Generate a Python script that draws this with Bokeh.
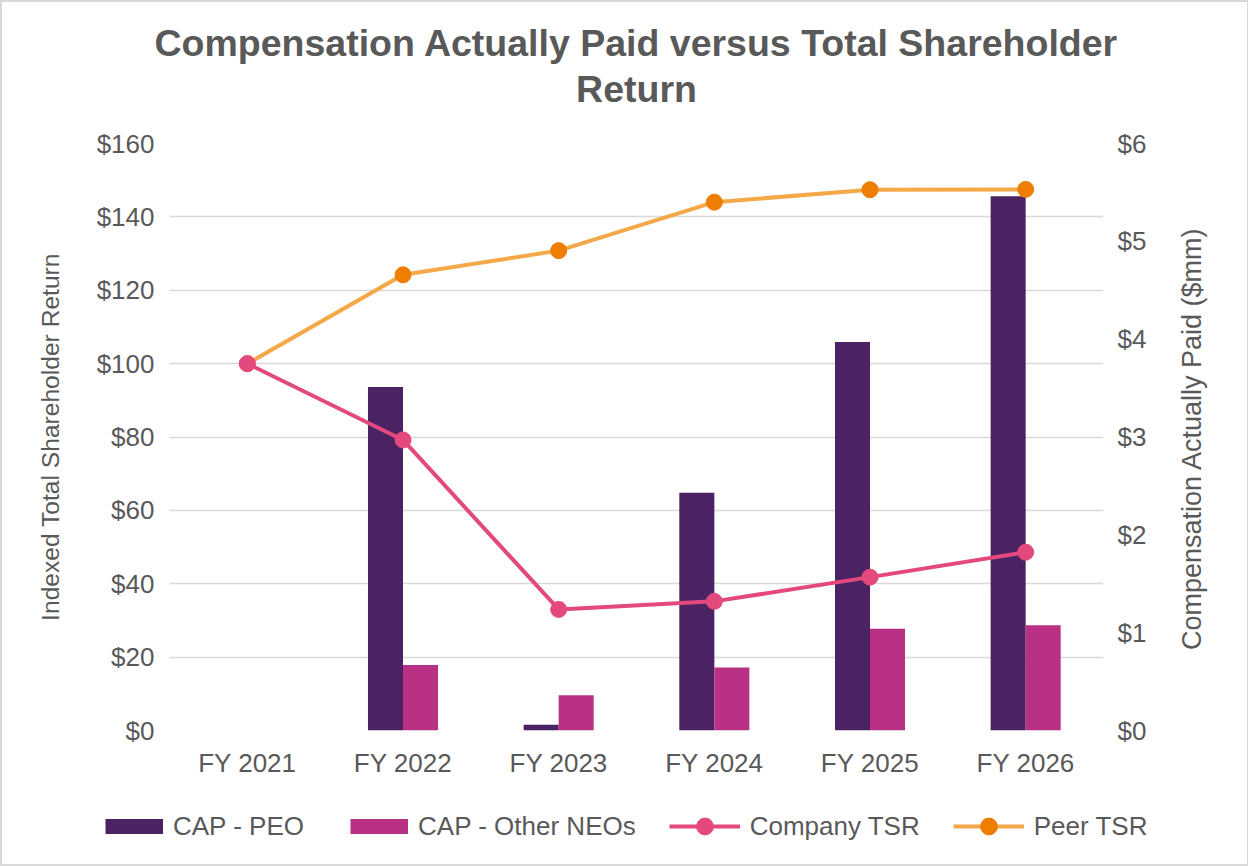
import math
from bokeh.plotting import figure
from bokeh.layouts import column, row
from bokeh.models import (Range1d, LinearAxis, FactorRange, FixedTicker, Label,
                          PrintfTickFormatter, Legend, LegendItem, ColumnDataSource, Title)
from bokeh.transform import dodge
from bokeh.embed import file_html
from bokeh.resources import INLINE

# ---- data ----
years = ["FY 2021", "FY 2022", "FY 2023", "FY 2024", "FY 2025", "FY 2026"]
cap_peo = [0.0, 3.51, 0.06, 2.43, 3.97, 5.46]        # $mm (right axis)
cap_neo = [0.0, 0.67, 0.36, 0.645, 1.04, 1.075]      # $mm (right axis)
company_tsr = [100.0, 79.2, 33.0, 35.2, 41.8, 48.6]  # left axis
peer_tsr = [100.0, 124.2, 130.8, 144.0, 147.4, 147.5]
tsr_ticks = [0, 20, 40, 60, 80, 100, 120, 140, 160]
cap_ticks = [0, 1, 2, 3, 4, 5, 6]
title_lines = ["Compensation Actually Paid versus Total Shareholder", "Return"]
left_label = "Indexed Total Shareholder Return"
right_label = "Compensation Actually Paid ($mm)"
legend_labels = ["CAP - PEO", "CAP - Other NEOs", "Company TSR", "Peer TSR"]

FONT = "Liberation Sans"
GRAY = "#595959"
C_PEO = "#4B2362"
C_NEO = "#B93185"
C_CO = "#E4497D"
C_PEER_LINE = "#F4A848"
C_PEER_MK = "#EE7D00"

src = ColumnDataSource(dict(x=years, peo=cap_peo, neo=cap_neo, co=company_tsr, peer=peer_tsr))

P_LEFT, P_RIGHT, P_TOP, P_BOTTOM = 167, 45, 141, 60
FW, FH = 934, 587
p = figure(x_range=FactorRange(*years), y_range=Range1d(0, 160),
           frame_width=FW, frame_height=FH,
           min_border_left=P_LEFT, min_border_right=P_RIGHT, min_border_top=P_TOP,
           min_border_bottom=P_BOTTOM,
           output_backend="svg", toolbar_location=None, title=None)
p.extra_y_ranges = {"cap": Range1d(0, 6)}

p.background_fill_color = "white"
p.border_fill_color = "white"
p.outline_line_color = None

# title: spacer nearest the plot, then line 2, then line 1 (later = further up)
p.add_layout(Title(text=" ", text_font_size="1px", standoff=31), "above")
p.add_layout(Title(text=title_lines[1], align="center", text_font=FONT, text_font_size="37.5px",
                   text_font_style="bold", text_color=GRAY, standoff=0), "above")
p.add_layout(Title(text=title_lines[0], align="center", text_font=FONT, text_font_size="37.5px",
                   text_font_style="bold", text_color=GRAY, standoff=4), "above")

# bars
p.vbar(x=dodge("x", -0.1125, range=p.x_range), top="peo", width=0.225, source=src,
       y_range_name="cap", fill_color=C_PEO, line_color=None)
p.vbar(x=dodge("x", 0.1125, range=p.x_range), top="neo", width=0.225, source=src,
       y_range_name="cap", fill_color=C_NEO, line_color=None)

# lines
p.line(x="x", y="peer", source=src, line_color=C_PEER_LINE, line_width=4)
p.scatter(x="x", y="peer", source=src, size=16, fill_color=C_PEER_MK, line_color=C_PEER_MK)
p.line(x="x", y="co", source=src, line_color=C_CO, line_width=4)
p.scatter(x="x", y="co", source=src, size=16, fill_color=C_CO, line_color=C_CO)

# axes
p.yaxis.ticker = FixedTicker(ticks=tsr_ticks)
p.yaxis.formatter = PrintfTickFormatter(format="$%d")
p.yaxis.axis_label = left_label

right = LinearAxis(y_range_name="cap", ticker=FixedTicker(ticks=cap_ticks),
                   formatter=PrintfTickFormatter(format="$%d"))
p.add_layout(right, "right")

for ax in [p.xaxis[0], p.yaxis[0], right]:
    ax.axis_line_color = None
    ax.major_tick_line_color = None
    ax.minor_tick_line_color = None
    ax.major_label_text_font = FONT
    ax.major_label_text_font_size = "26px"
    ax.major_label_text_color = GRAY
    ax.axis_label_text_font = FONT
    ax.axis_label_text_font_size = "24.6px"
    ax.axis_label_text_color = GRAY
    ax.axis_label_text_font_style = "normal"

p.xaxis.major_label_standoff = 11
p.yaxis[0].major_label_standoff = 9
p.yaxis[0].axis_label_standoff = 30
right.major_label_standoff = 8

p.xgrid.grid_line_color = None
p.ygrid.grid_line_color = "#D9D9D9"
p.ygrid.grid_line_width = 1.5

P_W = P_LEFT + FW + P_RIGHT
P_H = P_TOP + FH + P_BOTTOM
TOTAL_W, TOTAL_H = 1244, 862


def blank(width, height):
    f = figure(width=width, height=height, min_border=0, min_border_left=0, min_border_right=0,
               min_border_top=0, min_border_bottom=0, output_backend="svg", toolbar_location=None,
               x_axis_type=None, y_axis_type=None,
               x_range=Range1d(0, width), y_range=Range1d(0, height))
    f.outline_line_color = None
    f.xgrid.grid_line_color = None
    f.ygrid.grid_line_color = None
    f.background_fill_color = "white"
    f.border_fill_color = "white"
    return f


# ---- strip at the right holding the right-axis title (reads bottom to top) ----
rw = TOTAL_W - P_W
rf = blank(rw, P_H)
rf.add_layout(Label(x=1188 - P_W, y=P_H - 436, text=right_label, angle=math.pi / 2,
                    text_align="center", text_baseline="middle", text_font=FONT,
                    text_font_size="27px", text_color=GRAY))

# ---- legend strip below the chart ----
lh = TOTAL_H - P_H
lg = blank(TOTAL_W, lh)

for f in (p, rf, lg):
    if "frame_align" in f.properties():
        f.frame_align = False

# legend-only renderers (their points sit outside the visible range)
off = ColumnDataSource(dict(x=[-20, -19], y=[-20, -20]))
peo_sw = lg.line(x="x", y="y", source=off, line_color=C_PEO, line_width=15,
                 line_dash="0 13 58 300", line_cap="butt")
neo_sw = lg.line(x="x", y="y", source=off, line_color=C_NEO, line_width=15,
                 line_dash="0 13 58 300", line_cap="butt")
co_l = lg.line(x="x", y="y", source=off, line_color=C_CO, line_width=4)
co_s = lg.scatter(x="x", y="y", source=off, fill_color=C_CO, line_color=C_CO)
peer_l = lg.line(x="x", y="y", source=off, line_color=C_PEER_LINE, line_width=4)
peer_s = lg.scatter(x="x", y="y", source=off, fill_color=C_PEER_MK, line_color=C_PEER_MK)

legend = Legend(items=[
    LegendItem(label=legend_labels[0], renderers=[peo_sw]),
    LegendItem(label=legend_labels[1], renderers=[neo_sw]),
    LegendItem(label=legend_labels[2], renderers=[co_l, co_s]),
    LegendItem(label=legend_labels[3], renderers=[peer_l, peer_s]),
], orientation="horizontal", location=(90, lh - (824 - P_H) - 21))
if "nrows" in legend.properties():
    legend.nrows = 1
legend.label_text_font = FONT
legend.label_text_font_size = "26px"
legend.label_text_color = GRAY
legend.glyph_width = 71
legend.glyph_height = 42
legend.label_standoff = 10
legend.spacing = 33
legend.border_line_color = None
legend.background_fill_alpha = 0
legend.padding = 0
legend.margin = 0
lg.add_layout(legend, "center")

layout = column(row(p, rf, spacing=0), lg, spacing=0,
                styles={"border": "2px solid #D9D9D9"})
open("out.html", "w").write(file_html(layout, INLINE))
